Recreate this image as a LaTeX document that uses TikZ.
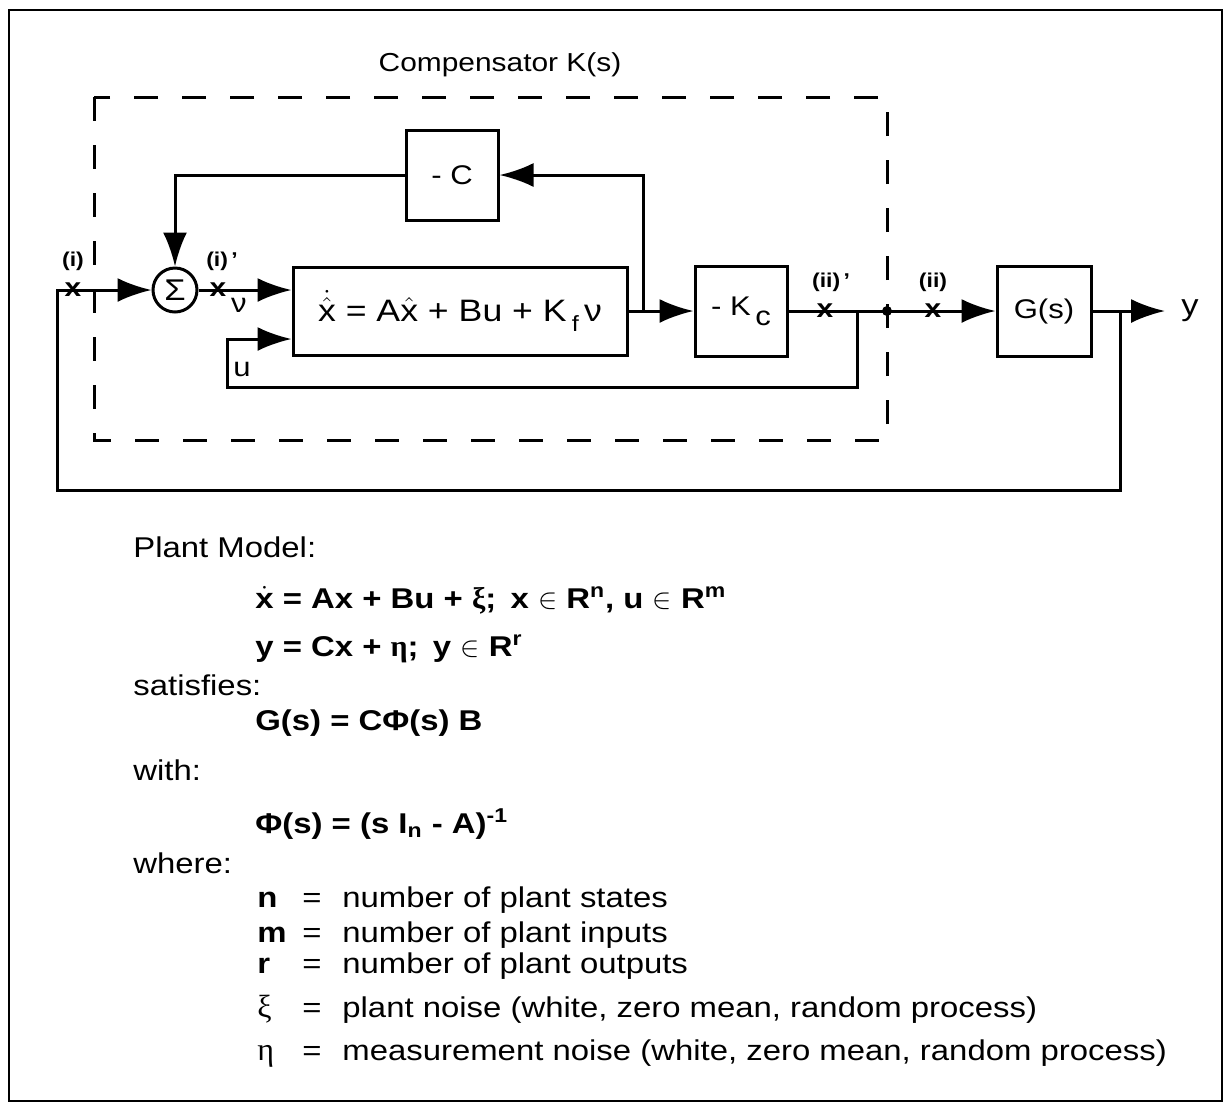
\documentclass[tikz,border=0pt]{standalone}
\usepackage{amsmath}
\usepackage{fontspec}
\setmainfont{Liberation Sans}[FakeStretch=1.15]
\newfontfamily\grk{Liberation Serif}
\usetikzlibrary{arrows.meta,positioning}

\begin{document}
\begin{tikzpicture}[
  x=0.5pt, y=-0.5pt,
  font=\fontsize{13.5pt}{15pt}\selectfont,
  blk/.style={rectangle, draw, line width=1.5pt, minimum width=46pt, minimum height=45pt, inner sep=2pt},
  sumnode/.style={circle, draw, line width=1.5pt, minimum size=22pt, inner sep=0pt},
  xmark/.style={inner sep=0pt, font=\fontsize{13pt}{13pt}\selectfont\bfseries},
  lbl/.style={inner sep=0pt, font=\fontsize{10pt}{10pt}\selectfont\bfseries},
  txt/.style={anchor=base west, inner sep=0pt, font=\fontsize{14.3pt}{16pt}\selectfont},
  line/.style={-{Latex[length=17pt, width=12pt]}, line width=1.5pt},
  dashbox/.style={line width=1.5pt, dash pattern=on 12pt off 12pt},
  frame/.style={line width=1.2pt}
]
\useasboundingbox (0,0) rectangle (1225,1105);
\draw[frame] (9,10) rectangle (1222,1101);

% compensator
\node[font=\fontsize{13pt}{15pt}\selectfont] (comp) at (500,65) {Compensator K(s)};
\draw[dashbox] (94,97) rectangle (887,440);

\node[sumnode, font=\fontsize{15pt}{15pt}\selectfont] (sum) at (175,290) {Σ};
\node[blk] (negc) at (452,175) {- C};
\node[blk, minimum width=167pt, minimum height=44pt, font=\fontsize{15.5pt}{17pt}\selectfont] (est) at (460,311)
  {$\dot{\hat{\text{x}}}$ = A$\hat{\text{x}}$ + Bu + K\,\raisebox{-5pt}{\fontsize{11pt}{11pt}\selectfont f}\,ν};
\node[blk] (kc) at (741,311) {- K\,\raisebox{-5pt}{c}};
\node[blk, minimum width=47pt] (plant) at (1044,311) {G(s)};
\node[inner sep=0pt, anchor=west, font=\fontsize{15pt}{15pt}\selectfont] (yout) at (1181,311) {y};
\node[circle, fill, inner sep=0pt, minimum size=5pt] (jn) at (887,311) {};

\coordinate (fbc) at (57,490);
\coordinate (ytap) at (1120,311);
\coordinate (ctap) at (643,311);
\coordinate (utap) at (857,311);
\coordinate (ubot) at (227,387);

\draw[line] (ytap) |- (fbc) |- (sum.west);
\draw[line] (sum.east) -- (sum.east -| est.west);
\draw[line] (utap) |- (ubot) |- ([yshift=-14pt]est.west);
\draw[line] (est.east) -- (kc.west);
\draw[line] (ctap) |- (negc.east);
\draw[line] (negc.west) -| (sum.north);
\draw[line] (kc.east) -- (plant.west);
\draw[line] (plant.east) -- ([xshift=-8pt]yout.west);

% break points
\node[xmark] (ci) at (73,290) {x};
\node[xmark] (cip) at (218,290) {x};
\node[xmark] (ciip) at (825,311) {x};
\node[xmark] (cii) at (933,311) {x};
\node[lbl, above=6pt of ci] (lci) {(i)};
\node[lbl, above=6pt of cip, xshift=2pt] (lcip) {(i)\,'};
\node[lbl, above=6pt of ciip, xshift=3pt] (lciip) {(ii)\,'};
\node[lbl, above=6pt of cii] (lcii) {(ii)};
\node (nu) at (239,305) {ν};
\node (ulbl) at (242,369) {u};

% plant model
\node[txt] (pm) at (133,557) {Plant Model:};
\node[txt] (eqa) at (255,608) {\bfseries $\dot{\text{x}}$ = Ax + Bu + {\grk\fontsize{15pt}{16pt}\selectfont ξ};\enspace x $\in$ R$^{\text{n}}$, u $\in$ R$^{\text{m}}$};
\node[txt] (eqb) at (255,656) {\bfseries y = Cx + {\grk\fontsize{15pt}{16pt}\selectfont η};\enspace y $\in$ R$^{\text{r}}$};
\node[txt] (sat) at (133,695) {satisfies:};
\node[txt] (eqc) at (255,730) {\bfseries G(s) = CΦ(s) B};
\node[txt] (wth) at (133,780) {with:};
\node[txt] (eqd) at (255,833) {\bfseries Φ(s) = (s I$_{\text{n}}$ - A)$^{\text{-1}}$};
\node[txt] (whr) at (133,873) {where:};

\node[txt] (sn) at (257,907) {\bfseries n};
\node[txt] (en) at (302,907) {=};
\node[txt] (dn) at (342,907) {number of plant states};
\node[txt] (sm) at (257,942) {\bfseries m};
\node[txt] (em) at (302,942) {=};
\node[txt] (dm) at (342,942) {number of plant inputs};
\node[txt] (sr) at (257,973) {\bfseries r};
\node[txt] (er) at (302,973) {=};
\node[txt] (dr) at (342,973) {number of plant outputs};
\node[txt] (sxi) at (257,1017) {\grk\fontsize{16pt}{16pt}\selectfont ξ};
\node[txt] (exi) at (302,1017) {=};
\node[txt] (dxi) at (342,1017) {plant noise (white, zero mean, random process)};
\node[txt] (seta) at (257,1060) {\grk\fontsize{16pt}{16pt}\selectfont η};
\node[txt] (eeta) at (302,1060) {=};
\node[txt] (deta) at (342,1060) {measurement noise (white, zero mean, random process)};
\end{tikzpicture}
\end{document}
